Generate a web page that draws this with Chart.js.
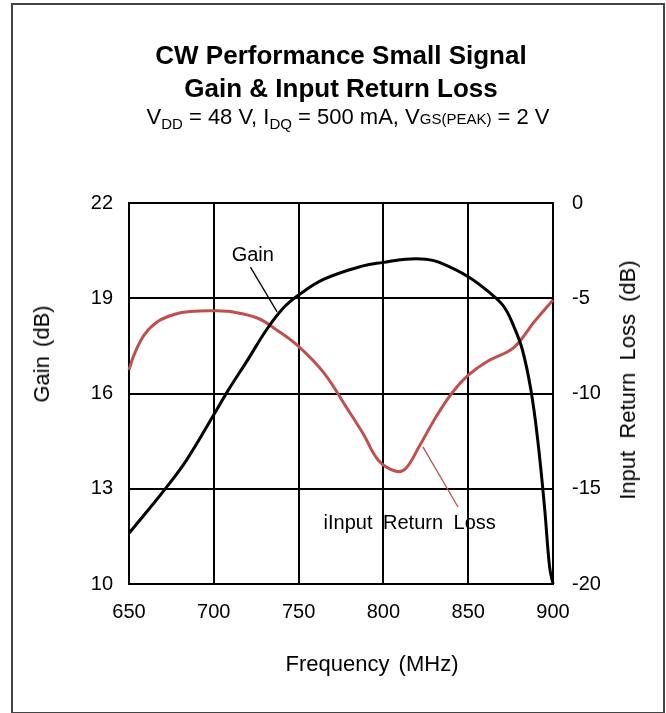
<!DOCTYPE html>
<html>
<head>
<meta charset="utf-8">
<script src="https://cdn.jsdelivr.net/npm/chart.js@4.4.1/dist/chart.umd.min.js"></script>
<style>
  html, body { margin: 0; padding: 0; background: #fff; }
  body { width: 666px; height: 713px; position: relative; overflow: hidden; font-family: "Liberation Sans", Arial, sans-serif; }
  #frame { position: absolute; left: 11px; top: 3px; width: 650px; height: 707px; border: 2px solid #444; }
  #wrap { position: absolute; left: 0; top: 0; width: 666px; height: 713px; }
  .t { position: absolute; white-space: nowrap; color: #000; }
  #t1, #t2 { left: 0; width: 682px; text-align: center; font-weight: bold; font-size: 26px; }
  #t1 { top: 40px; }
  #t2 { top: 73px; }
  #t3 { left: 0; width: 696px; text-align: center; top: 104px; font-size: 22px; }
  #t3 sub { font-size: 15px; vertical-align: -5px; }
  #t3 .s2 { font-size: 15px; }
  #xt { left: 0; width: 744px; text-align: center; top: 651px; font-size: 22px; word-spacing: 3px; }
  #yl { left: 42px; top: 354px; font-size: 22px; transform: translate(-50%, -50%) rotate(-90deg); word-spacing: 3px; }
  #yr { left: 628px; top: 380px; font-size: 22px; transform: translate(-50%, -50%) rotate(-90deg); word-spacing: 6px; }
</style>
</head>
<body>
<div id="frame"></div>
<div id="wrap"><canvas id="chart" width="666" height="713"></canvas></div>
<div class="t" id="t1">CW Performance Small Signal</div>
<div class="t" id="t2">Gain &amp; Input Return Loss</div>
<div class="t" id="t3">V<sub>DD</sub> = 48 V, I<sub>DQ</sub> = 500 mA, V<span class="s2">GS(PEAK)</span> = 2 V</div>
<div class="t" id="xt">Frequency (MHz)</div>
<div class="t" id="yl">Gain (dB)</div>
<div class="t" id="yr">Input Return Loss (dB)</div>
<script>
// data
const gainFreq = [650, 659, 671, 684, 700, 708, 720, 731, 741, 750, 765, 788, 800, 813, 825, 833, 850, 863, 871, 877, 882, 887, 891, 895, 898, 900];
const gainDb   = [11.6, 12.18, 12.97, 13.91, 15.33, 16.06, 17.06, 18.0, 18.69, 19.1, 19.6, 20.02, 20.13, 20.23, 20.23, 20.13, 19.68, 19.16, 18.74, 18.1, 17.37, 16.1, 14.53, 12.42, 10.53, 10.0];

const rlFreq = [650, 653, 659, 667, 677, 686, 700, 712, 726, 737, 750, 765, 778, 788, 797, 807, 813, 821, 831, 841, 850, 861, 875, 881, 889, 900];
const rlDb   = [-8.76, -7.97, -6.92, -6.22, -5.84, -5.7, -5.66, -5.73, -6.05, -6.66, -7.53, -8.93, -10.7, -12.1, -13.5, -14.07, -13.95, -12.8, -11.23, -9.91, -9.04, -8.33, -7.72, -7.19, -6.23, -5.09];

const freqTicks = [650, 700, 750, 800, 850, 900];
const gainTicks = [10, 13, 16, 19, 22];
const rlTicks = [-20, -15, -10, -5, 0];

const pts = (xs, ys) => xs.map((x, i) => ({ x: x, y: ys[i] }));

// chart area edges in page pixels
const areaLeft = 129, areaRight = 553, areaTop = 203, areaBottom = 584;
const W = 666, H = 713;

const tickFont = { family: "'Liberation Sans', Arial, sans-serif", size: 20 };

// leader lines and curve labels
const notes = {
  id: "notes",
  afterDatasetsDraw(chart) {
    const c = chart.ctx, x = chart.scales.x, y = chart.scales.y, y2 = chart.scales.y2;
    c.save();
    c.lineWidth = 1.3;
    c.strokeStyle = "#000";
    c.beginPath();
    c.moveTo(x.getPixelForValue(721.6), y.getPixelForValue(19.98));
    c.lineTo(x.getPixelForValue(737.3), y.getPixelForValue(18.57));
    c.stroke();
    c.strokeStyle = "#c0504d";
    c.beginPath();
    c.moveTo(x.getPixelForValue(823.3), y2.getPixelForValue(-12.8));
    c.lineTo(x.getPixelForValue(844), y2.getPixelForValue(-15.96));
    c.stroke();
    c.fillStyle = "#000";
    c.textAlign = "center";
    c.textBaseline = "middle";
    c.font = "20px 'Liberation Sans', Arial, sans-serif";
    c.fillText("Gain", x.getPixelForValue(723), y.getPixelForValue(20.35));
    c.wordSpacing = "5px";
    c.fillText("iInput Return Loss", x.getPixelForValue(815.5), y2.getPixelForValue(-16.8));
    c.restore();
  }
};

new Chart(document.getElementById("chart"), {
  type: "line",
  data: {
    datasets: [
      {
        label: "Gain",
        data: pts(gainFreq, gainDb),
        yAxisID: "y",
        borderColor: "#000",
        borderWidth: 3,
        pointRadius: 0,
        tension: 0.4,
        clip: 4,
      },
      {
        label: "Input Return Loss",
        data: pts(rlFreq, rlDb),
        yAxisID: "y2",
        borderColor: "#c0504d",
        borderWidth: 3,
        pointRadius: 0,
        tension: 0.4,
        clip: 4,
      },
    ],
  },
  options: {
    responsive: false,
    animation: false,
    events: [],
    layout: { padding: { top: areaTop, left: 0, right: 0, bottom: 0 } },
    plugins: { legend: { display: false }, tooltip: { enabled: false } },
    scales: {
      x: {
        type: "linear",
        min: 650,
        max: 900,
        afterFit: (s) => { s.height = H - areaBottom; },
        afterBuildTicks: (s) => { s.ticks = freqTicks.map((v) => ({ value: v })); },
        ticks: { color: "#000", font: tickFont, padding: 16, maxRotation: 0 },
        grid: { color: "#000", lineWidth: 2, drawTicks: false },
        border: { color: "#000", width: 2 },
      },
      y: {
        position: "left",
        min: 10,
        max: 22,
        afterFit: (s) => { s.width = areaLeft; },
        afterBuildTicks: (s) => { s.ticks = gainTicks.map((v) => ({ value: v })); },
        ticks: { color: "#000", font: tickFont, padding: 16 },
        grid: { color: "#000", lineWidth: 2, drawTicks: false },
        border: { color: "#000", width: 2 },
      },
      y2: {
        position: "right",
        min: -20,
        max: 0,
        afterFit: (s) => { s.width = W - areaRight; },
        afterBuildTicks: (s) => { s.ticks = rlTicks.map((v) => ({ value: v })); },
        ticks: { color: "#000", font: tickFont, padding: 19 },
        grid: { display: false, drawTicks: false },
        border: { color: "#000", width: 2 },
      },
    },
  },
  plugins: [notes],
});
</script>
</body>
</html>
